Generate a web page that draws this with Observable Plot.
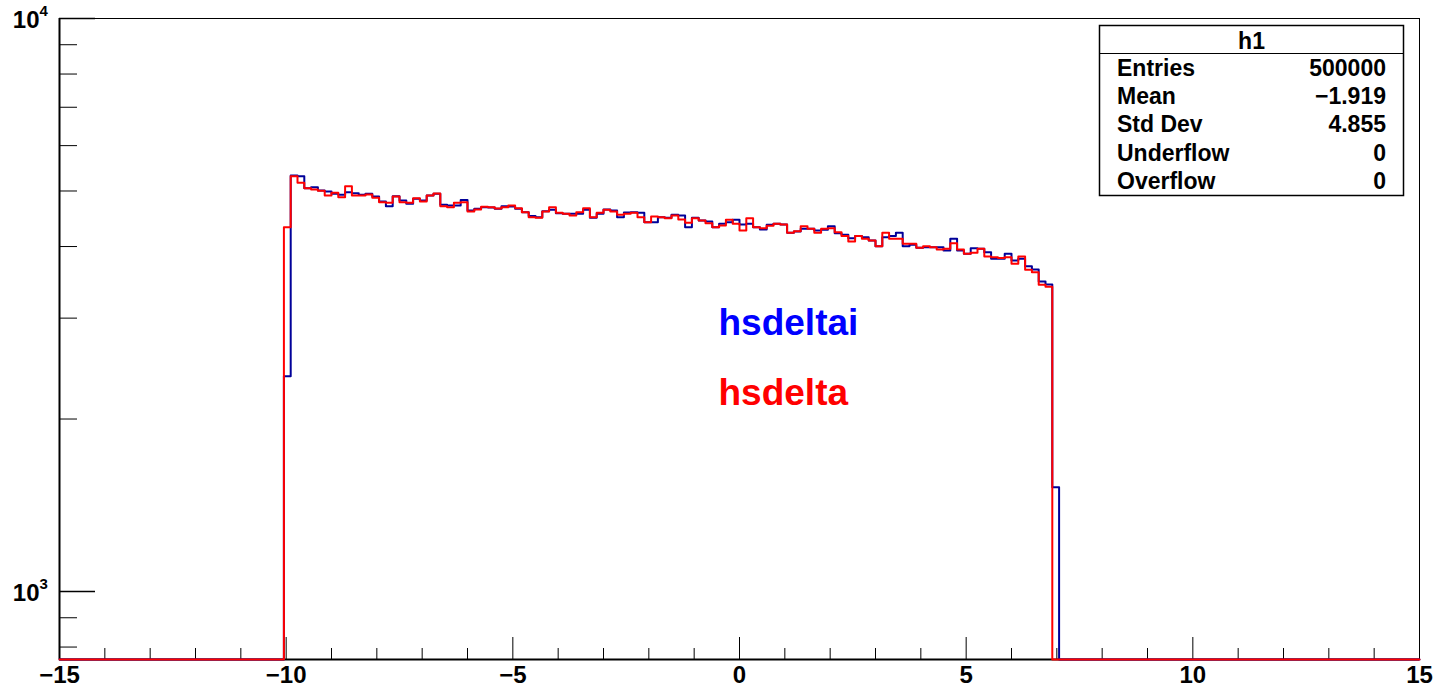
<!DOCTYPE html>
<html>
<head>
<meta charset="utf-8">
<script src="https://cdn.jsdelivr.net/npm/d3@7"></script>
<script src="https://cdn.jsdelivr.net/npm/@observablehq/plot@0.6"></script>
<style>
html, body { margin: 0; padding: 0; background: #fff; overflow: hidden; }
svg { display: block; }
</style>
</head>
<body>
<div id="chart"></div>
<script>
// Histogram definition (h1-style binning): 200 bins over [-15, 15]
const histXMin = -15;
const histXMax = 15;
const histBins = 200;
const firstFilledBin = 33; // first non-empty bin index

// hsdelta (red) bin contents, starting at firstFilledBin
const hsdeltaCounts = [
  4324,5307,5168,5058,5031,5005,4911,4965,4878,5098,
  4911,4911,4931,4866,4781,4769,4892,4781,4769,4858,
  4794,4911,4951,4705,4686,4769,4781,4606,4643,4693,
  4686,4661,4686,4718,4667,4593,4501,4491,4606,4686,
  4582,4563,4532,4593,4667,4501,4582,4637,4606,4545,
  4563,4582,4501,4412,4514,4501,4483,4532,4460,4401,
  4483,4442,4394,4324,4354,4455,4384,4267,4483,4324,
  4307,4348,4384,4371,4228,4255,4341,4296,4228,4296,
  4307,4238,4171,4083,4171,4127,4099,4006,4228,4127,
  4127,4045,4045,3981,4006,3990,3954,3965,4055,3954,
  3886,3902,3965,3844,3833,3818,3833,3733,3844,3644,
  3609,3431,3403
];

// hsdeltai (blue) bin contents, starting at firstFilledBin
const hsdeltaiCounts = [
  2376,5322,5307,5058,5078,5011,4991,4945,4925,4977,
  4957,4925,4945,4892,4794,4705,4898,4814,4750,4847,
  4814,4911,4945,4731,4718,4718,4820,4624,4656,4686,
  4680,4656,4705,4699,4656,4593,4520,4501,4611,4637,
  4574,4563,4563,4563,4637,4491,4563,4643,4624,4501,
  4587,4593,4582,4412,4412,4501,4491,4545,4532,4324,
  4491,4442,4424,4324,4384,4412,4455,4371,4384,4324,
  4284,4366,4384,4371,4228,4250,4296,4296,4267,4279,
  4341,4221,4194,4137,4171,4154,4099,4006,4154,4171,
  4228,4006,4029,3981,3990,3990,3990,3938,4127,3938,
  3886,3974,3965,3911,3809,3809,3886,3783,3809,3697,
  3648,3477,3435,1521
];

// Axes
const xMajorTicks = [-15, -10, -5, 0, 5, 10, 15];
const xMinorTicks = [-14,-13,-12,-11,-9,-8,-7,-6,-4,-3,-2,-1,1,2,3,4,6,7,8,9,11,12,13,14];
const yDomain = [761, 10000];
const yMajorTicks = [1000, 10000];
const yMinorTicks = [800, 900, 2000, 3000, 4000, 5000, 6000, 7000, 8000, 9000];

// Legend / stats text
const legendLabels = ["hsdeltai", "hsdelta"];
const statsTitle = "h1";
const statsLabels = ["Entries", "Mean", "Std Dev", "Underflow", "Overflow"];
const statsValues = ["500000", "\u22121.919", "4.855", "0", "0"];

const W = 1439, H = 689;
const mL = 59, mR = 20, mT = 18, mB = 30;
const frameW = W - mL - mR, frameH = H - mT - mB;
const font = "'Liberation Sans', Arial, Helvetica, sans-serif";

function stepPoints(counts) {
  const w = (histXMax - histXMin) / histBins;
  const floor = yDomain[0];
  const pts = [{x: histXMin, y: floor}];
  counts.forEach((c, i) => pts.push({x: histXMin + (firstFilledBin + i) * w, y: c > 0 ? c : floor}));
  pts.push({x: histXMin + (firstFilledBin + counts.length) * w, y: floor});
  pts.push({x: histXMax, y: floor});
  return pts;
}

const fmtX = d => d < 0 ? "\u2212" + Math.abs(d) : String(d);

const plot = Plot.plot({
  width: W, height: H,
  marginLeft: mL, marginRight: mR, marginTop: mT, marginBottom: mB,
  style: {fontFamily: font, background: "#fff", overflow: "visible"},
  x: {domain: [histXMin, histXMax], axis: null},
  y: {type: "log", domain: yDomain, axis: null},
  marks: [
    Plot.frame({stroke: "black", strokeWidth: 1}),
    // x ticks (inward)
    Plot.ruleX(xMajorTicks, {x: d => d, insetTop: frameH - 22, stroke: "black", strokeWidth: 1}),
    Plot.ruleX(xMinorTicks, {x: d => d, insetTop: frameH - 11, stroke: "black", strokeWidth: 1}),
    // y ticks (inward)
    Plot.ruleY(yMajorTicks, {y: d => d, insetRight: frameW - 36, stroke: "black", strokeWidth: 1.5}),
    Plot.ruleY(yMinorTicks, {y: d => d, insetRight: frameW - 18, stroke: "black", strokeWidth: 1}),
    // axis lines
    Plot.ruleX([histXMin], {stroke: "black", strokeWidth: 2}),
    Plot.ruleY([yDomain[0]], {stroke: "black", strokeWidth: 2}),
    // histograms
    Plot.line(stepPoints(hsdeltaiCounts), {x: "x", y: "y", curve: "step-after", stroke: "#000099", strokeWidth: 2}),
    Plot.line(stepPoints(hsdeltaCounts), {x: "x", y: "y", curve: "step-after", stroke: "#ff0000", strokeWidth: 2}),
    // x tick labels
    Plot.text(xMajorTicks, {x: d => d, frameAnchor: "bottom", dy: 16, text: fmtX, lineAnchor: "middle",
      fontSize: 24, fontWeight: "bold", fill: "black"}),
    // y tick labels: 10 with superscript exponent
    Plot.text(yMajorTicks, {y: d => d, frameAnchor: "left", dx: -20, dy: 2, text: () => "10", textAnchor: "end",
      lineAnchor: "middle", fontSize: 24, fontWeight: "bold", fill: "black"}),
    Plot.text(yMajorTicks, {y: d => d, frameAnchor: "left", dx: -20, dy: -7, text: d => String(Math.round(Math.log10(d))),
      textAnchor: "start", lineAnchor: "middle", fontSize: 15, fontWeight: "bold", fill: "black"}),
    // legend labels
    Plot.text([legendLabels[0]], {frameAnchor: "top-left", dx: 659, dy: 305, text: d => d, textAnchor: "start",
      lineAnchor: "middle", fontSize: 37, fontWeight: "bold", fill: "#0000ff"}),
    Plot.text([legendLabels[1]], {frameAnchor: "top-left", dx: 659, dy: 375, text: d => d, textAnchor: "start",
      lineAnchor: "middle", fontSize: 37, fontWeight: "bold", fill: "#ff0000"})
  ]
});

document.getElementById("chart").appendChild(plot);

// Stats box
const svg = d3.select(plot);
const g = svg.append("g").attr("font-family", font).attr("font-weight", "bold").attr("font-size", 23).attr("fill", "black");
const bx = 1099.5, by = 25.5, bw = 304, bh = 170, hdr = 28;
g.append("rect").attr("x", bx).attr("y", by).attr("width", bw).attr("height", bh)
  .attr("fill", "white").attr("stroke", "black").attr("stroke-width", 1.5);
g.append("line").attr("x1", bx).attr("x2", bx + bw).attr("y1", by + hdr).attr("y2", by + hdr)
  .attr("stroke", "black").attr("stroke-width", 1);
g.append("text").attr("x", bx + bw / 2).attr("y", by + hdr / 2 + 1).attr("text-anchor", "middle")
  .attr("dominant-baseline", "central").text(statsTitle);
statsLabels.forEach((lab, i) => {
  const yy = by + hdr + 14.5 + i * 28.2;
  g.append("text").attr("x", 1117).attr("y", yy).attr("text-anchor", "start").attr("dominant-baseline", "central").text(lab);
  g.append("text").attr("x", 1386).attr("y", yy).attr("text-anchor", "end").attr("dominant-baseline", "central").text(statsValues[i]);
});
</script>
</body>
</html>
